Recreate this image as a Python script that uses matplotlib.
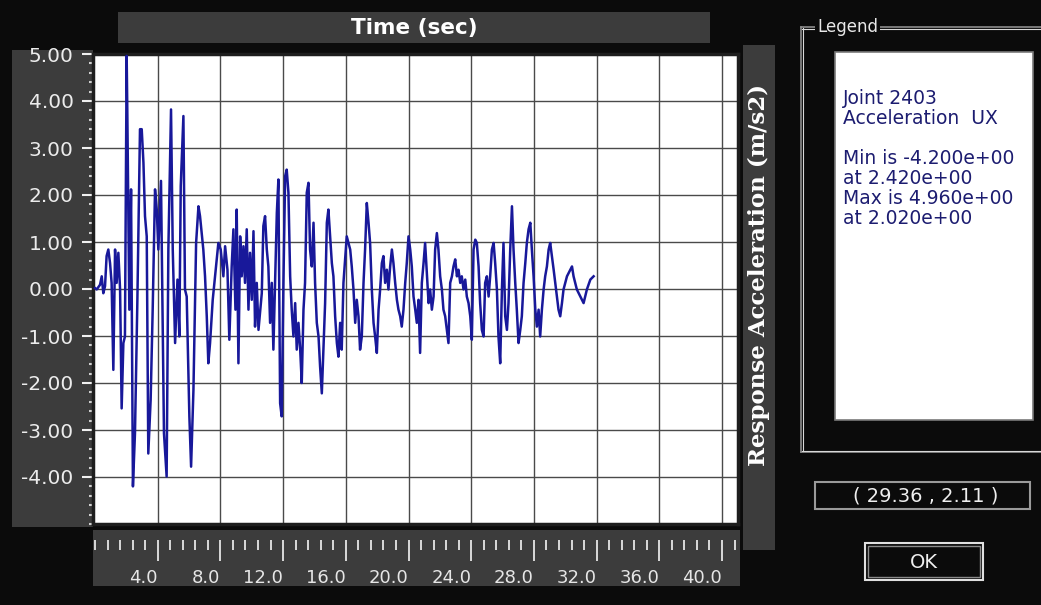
import numpy as np
import matplotlib
matplotlib.use("Agg")
import matplotlib.pyplot as plt
from matplotlib.patches import Rectangle
from matplotlib.lines import Line2D
from matplotlib.ticker import MultipleLocator

plt.rcParams['font.family'] = ['DejaVu Sans']

# ---------------------------
# Data: joint 2403 acceleration UX
# ---------------------------
t_a = [0.00, 0.11, 0.32, 0.43, 0.53, 0.64, 0.74, 0.85, 0.96, 1.06,
       1.17, 1.28, 1.38, 1.49, 1.60, 1.70, 1.81, 1.91, 2.02, 2.06,
       2.19, 2.30, 2.42, 2.55, 2.70, 2.87, 2.98, 3.09, 3.19, 3.30,
       3.40, 3.55, 3.68, 3.83, 3.94, 4.04, 4.21, 4.26, 4.40, 4.57,
       4.68, 4.85, 4.96, 5.11, 5.26, 5.38, 5.47, 5.64, 5.74, 5.85,
       6.02, 6.13, 6.28, 6.45, 6.60, 6.70, 6.91, 7.02, 7.13, 7.23,
       7.34, 7.51, 7.72, 7.87, 8.02, 8.19, 8.30, 8.45, 8.57, 8.72]
acc_a = [0.02, -0.01, 0.09, 0.27, -0.09, 0.06, 0.70, 0.84, 0.55, 0.13,
         -1.72, 0.84, 0.13, 0.77, -0.01, -2.54, -1.15, -1.01, 4.96, 3.82,
         -0.44, 2.12, -4.20, -3.07, -0.30, 3.40, 3.40, 2.69, 1.55, 1.12,
         -3.50, -2.36, -0.44, 2.12, 1.69, 0.84, 2.30, 0.84, -3.07, -3.99,
         0.84, 3.82, 0.84, -1.15, 0.20, -1.01, 2.19, 3.68, -0.01, -0.16,
         -2.71, -3.78, -2.15, 0.98, 1.76, 1.55, 0.84, 0.27, -0.58, -1.58,
         -1.15, -0.23, 0.48, 0.98, 0.84, 0.27, 0.91, 0.41, -1.08, 0.48]

t_b = [8.83, 8.96, 9.04, 9.15, 9.26, 9.36, 9.47, 9.57, 9.68, 9.79,
       9.89, 10.00, 10.11, 10.21, 10.32, 10.43, 10.64, 10.74, 10.85, 10.96,
       11.06, 11.17, 11.28, 11.38, 11.60, 11.70, 11.81, 11.91, 12.02, 12.13,
       12.23, 12.34, 12.45, 12.55, 12.66, 12.77, 12.87, 12.98, 13.09, 13.19,
       13.30, 13.40, 13.51, 13.62, 13.72, 13.83, 13.94, 14.04, 14.15, 14.26,
       14.36, 14.47, 14.57, 14.68, 14.79, 14.89, 15.00, 15.11, 15.21, 15.32,
       15.43, 15.53, 15.64, 15.74, 15.85, 16.06, 16.17]
acc_b = [1.27, -0.44, 1.69, -1.58, 1.12, 0.27, 0.91, 0.13, 1.27, -0.44,
         0.77, -0.23, 1.23, -0.80, 0.13, -0.87, -0.09, 1.34, 1.55, 0.84,
         0.48, -0.72, 0.13, -1.29, 1.62, 2.33, -2.43, -2.71, 0.13, 2.40,
         2.54, 2.05, 0.27, -0.44, -1.01, -0.30, -1.29, -0.72, -1.29, -2.00,
         -0.44, 0.13, 2.05, 2.26, 0.84, 0.48, 1.41, 0.13, -0.72, -1.01,
         -1.65, -2.22, -1.29, -0.30, 1.41, 1.69, 1.12, 0.55, 0.27, -0.58,
         -1.15, -1.44, -0.72, -1.29, 0.13, 1.12, 0.98]

t_c = [16.28, 16.38, 16.49, 16.60, 16.70, 16.81, 16.91, 17.02, 17.13, 17.23,
       17.34, 17.45, 17.55, 17.66, 17.77, 17.87, 17.98, 18.09, 18.19, 18.30,
       18.40, 18.51, 18.62, 18.72, 18.83, 18.94, 19.04, 19.15, 19.26, 19.36,
       19.47, 19.57, 19.68, 19.79, 19.89, 20.00, 20.11, 20.21, 20.32, 20.43,
       20.53, 20.64, 20.74, 20.85, 20.96, 21.06, 21.17, 21.28, 21.38, 21.49,
       21.60, 21.70, 21.81, 21.91, 22.02, 22.13, 22.23, 22.34, 22.45, 22.55,
       22.66, 22.77, 22.87, 22.98, 23.09, 23.19, 23.30, 23.40, 23.51, 23.62]
acc_c = [0.84, 0.48, -0.01, -0.72, -0.23, -0.58, -1.29, -1.01, 0.13, 0.84,
         1.83, 1.41, 0.98, -0.01, -0.72, -1.01, -1.36, -0.44, -0.01, 0.55,
         0.70, 0.13, 0.41, -0.01, 0.48, 0.84, 0.55, 0.13, -0.23, -0.44,
         -0.58, -0.80, -0.44, 0.13, 0.55, 1.12, 0.84, 0.48, -0.16, -0.44,
         -0.72, -0.23, -1.36, 0.13, 0.55, 0.98, 0.34, -0.30, -0.01, -0.44,
         -0.16, 0.84, 1.19, 0.84, 0.27, -0.01, -0.44, -0.58, -0.87, -1.15,
         0.13, 0.27, 0.48, 0.63, 0.27, 0.41, 0.13, 0.27, -0.01, 0.20]

t_d = [23.72, 23.83, 23.94, 24.04, 24.15, 24.26, 24.36, 24.47, 24.57, 24.68,
       24.79, 24.89, 25.00, 25.11, 25.21, 25.32, 25.43, 25.53, 25.64, 25.74,
       25.85, 25.96, 26.06, 26.17, 26.28, 26.38, 26.49, 26.60, 26.70, 26.81,
       26.91, 27.02, 27.13, 27.23, 27.34, 27.45, 27.55, 27.66, 27.77, 27.87,
       27.98, 28.09, 28.19, 28.30, 28.40, 28.51, 28.62, 28.72, 28.83, 28.94,
       29.04, 29.15, 29.26, 29.36, 29.47, 29.57, 29.68, 29.79, 29.89, 30.11,
       30.32, 30.43, 30.53, 30.74, 30.96, 31.17, 31.38, 31.60, 31.81]
acc_d = [-0.16, -0.30, -0.58, -1.08, 0.84, 1.05, 0.98, 0.48, -0.30, -0.87,
         -1.01, 0.13, 0.27, -0.16, 0.27, 0.84, 0.98, 0.55, -0.01, -1.01,
         -1.58, -0.01, 0.98, -0.58, -0.87, -0.30, 0.84, 1.76, 0.84, 0.13,
         -0.44, -1.15, -0.87, -0.58, 0.13, 0.55, 0.98, 1.27, 1.41, 0.84,
         0.27, -0.44, -0.80, -0.44, -1.01, -0.44, -0.01, 0.27, 0.48, 0.84,
         0.98, 0.70, 0.41, 0.13, -0.16, -0.44, -0.58, -0.30, -0.01, 0.27,
         0.41, 0.48, 0.27, -0.01, -0.16, -0.30, -0.01, 0.20, 0.27]

time = np.array(t_a + t_b + t_c + t_d)
accel = np.array(acc_a + acc_b + acc_c + acc_d)

y_ticks = [-4, -3, -2, -1, 0, 1, 2, 3, 4, 5]
x_ticks = [4, 8, 12, 16, 20, 24, 28, 32, 36, 40]
legend_lines = ["Joint 2403", "Acceleration  UX", "",
                "Min is -4.200e+00", "at 2.420e+00",
                "Max is 4.960e+00", "at 2.020e+00"]
cursor_text = "( 29.36 , 2.11 )"

# ---------------------------
# Figure in pixel units
# ---------------------------
W, H = 1041, 605
BG = '#0b0b0b'
STRIP = '#3c3c3c'
fig = plt.figure(figsize=(W / 100, H / 100), dpi=100, facecolor=BG)


def box(x0, y0, x1, y1):
    return [x0 / W, 1 - y1 / H, (x1 - x0) / W, (y1 - y0) / H]


def rect(x0, y0, x1, y1, fc, ec='none', lw=0, z=0):
    r = Rectangle((x0 / W, 1 - y1 / H), (x1 - x0) / W, (y1 - y0) / H,
                  transform=fig.transFigure, facecolor=fc, edgecolor=ec,
                  linewidth=lw, zorder=z)
    fig.add_artist(r)


def hline(x0, x1, y, c, lw=1.0):
    fig.add_artist(Line2D([x0 / W, x1 / W], [1 - y / H, 1 - y / H],
                          transform=fig.transFigure, color=c, lw=lw))


def vline(x, y0, y1, c, lw=1.0):
    fig.add_artist(Line2D([x / W, x / W], [1 - y0 / H, 1 - y1 / H],
                          transform=fig.transFigure, color=c, lw=lw))


# grey strips
rect(118, 12, 710, 43, STRIP)
rect(12, 50, 93, 527, STRIP)
rect(93, 530, 740, 586, STRIP)
rect(743, 45, 775, 550, STRIP)

fig.text(414 / W, 1 - 28 / H, "Time (sec)", color='white', fontsize=15.5,
         fontweight='bold', ha='center', va='center')
fig.text(759 / W, 1 - 275 / H, "Response Acceleration (m/s2)", color='white',
         fontsize=16.5, fontweight='bold', family='DejaVu Serif',
         rotation=90, ha='center', va='center')

# ---------------------------
# Main plot
# ---------------------------
px_per_sec = 627 / 40.0
ax = fig.add_axes(box(93, 54, 738, 524))
ax.set_facecolor('white')
ax.set_xlim(-2 / px_per_sec, (738 - 95) / px_per_sec)
ax.set_ylim(-5, 5)
ax.plot(time, accel, color='#18189a', lw=1.8, zorder=3)

ax.set_xticks(x_ticks)
ax.tick_params(axis='x', length=0, labelbottom=False)
ax.set_yticks(y_ticks)
ax.set_yticklabels([f"{v:.2f}" for v in y_ticks])
ax.yaxis.set_minor_locator(MultipleLocator(0.2))
ax.tick_params(axis='y', which='major', length=8, width=1.5, color='#f0f0f0',
               labelcolor='#ececec', labelsize=14.5, pad=6)
ax.tick_params(axis='y', which='minor', length=3, width=1.5, color='#cfcfcf')
ax.grid(True, color='#4a4a4a', lw=1.0, zorder=1)
for s in ax.spines.values():
    s.set_color('#1e1e1e')
    s.set_linewidth(2.5)

# ruler under the plot
axr = fig.add_axes(box(93, 540, 740, 568))
axr.patch.set_alpha(0)
axr.set_xlim(-2 / px_per_sec, (740 - 95) / px_per_sec)
axr.set_yticks([])
for s in axr.spines.values():
    s.set_visible(False)
axr.set_xticks(x_ticks)
axr.set_xticklabels([f"{v:.1f}" for v in x_ticks])
axr.xaxis.set_minor_locator(MultipleLocator(0.8))
axr.tick_params(axis='x', which='both', top=True, bottom=False, direction='in',
                labeltop=False, labelbottom=True, color='#e6e6e6',
                labelcolor='#e6e6e6', labelsize=13, pad=1)
axr.tick_params(axis='x', which='major', length=15, width=1.3)
axr.tick_params(axis='x', which='minor', length=7, width=1.3)
for lbl in axr.get_xticklabels():
    lbl.set_horizontalalignment('right')

# ---------------------------
# Legend panel
# ---------------------------
hline(801, 1041, 27, '#8c8c8c', 1.2)
hline(802, 1041, 28.5, '#d8d8d8', 0.8)
vline(801, 27, 452, '#8c8c8c', 1.2)
vline(802.5, 28, 451, '#d8d8d8', 0.8)
hline(801, 1041, 452, '#8c8c8c', 1.2)
hline(802, 1041, 450.5, '#d8d8d8', 0.8)
fig.text(817 / W, 1 - 27 / H, "Legend", color='#e8e8e8', fontsize=12,
         ha='left', va='center',
         bbox=dict(facecolor=BG, edgecolor='none', pad=1.5))

rect(835, 52, 1033, 420, 'white', ec='#7a7a7a', lw=1.2)
for i, line in enumerate(legend_lines):
    fig.text(843 / W, 1 - (98 + 20 * i) / H, line, color='#1c1c70',
             fontsize=13.5, ha='left', va='center')

# cursor readout and OK button
rect(815, 482, 1030, 509, BG, ec='#9a9a9a', lw=1.5)
fig.text(926 / W, 1 - 496 / H, cursor_text, color='#eeeeee', fontsize=14,
         ha='center', va='center')
rect(865, 543, 983, 580, BG, ec='#e0e0e0', lw=1.5)
rect(868, 546, 980, 577, 'none', ec='#8a8a8a', lw=1.0)
fig.text(924 / W, 1 - 562 / H, "OK", color='#eeeeee', fontsize=14,
         ha='center', va='center')

fig.savefig('out.png', dpi=100, facecolor=BG)
